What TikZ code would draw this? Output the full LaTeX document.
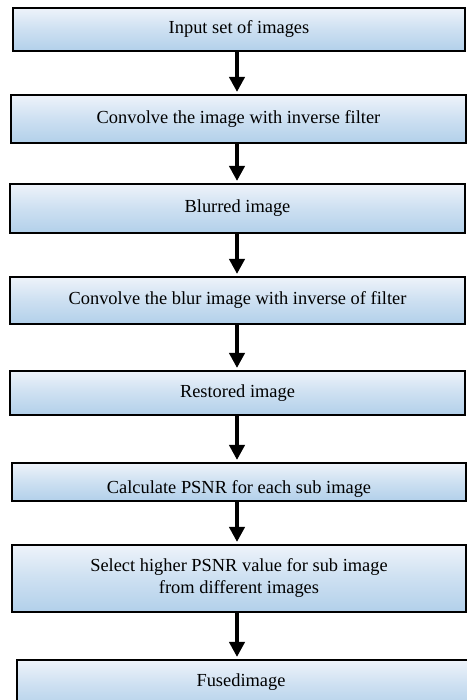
\documentclass[tikz,border=0pt]{standalone}
\usepackage{fontspec}
\setmainfont{Liberation Serif}
\usetikzlibrary{arrows.meta,calc}
\definecolor{boxtop}{HTML}{EEF3FA}
\definecolor{boxbot}{HTML}{B2D0EA}
\tikzset{
  box/.style={draw=black, line width=2.5pt, top color=boxtop, bottom color=boxbot,
    middle color=boxbot!55!boxtop, shading angle=0, rectangle, inner sep=0pt, outer sep=0pt,
    font=\fontsize{18.4}{22}\selectfont, align=center},
  arr/.style={line width=4pt, -{Triangle[width=15pt,length=15pt]}, shorten >=3pt, shorten <=1pt},
  txt/.style={font=\fontsize{18.4}{22}\selectfont, inner sep=0pt}
}
\begin{document}
\begin{tikzpicture}[x=1pt,y=1pt]
\useasboundingbox (0,0) rectangle (466,700);
\node[box, minimum width=452pt, minimum height=43pt] (b1) at (239,670.5) {Input set of images};
\node[box, minimum width=455pt, minimum height=48pt] (b2) at (238.5,581) {Convolve the image with inverse filter};
\node[box, minimum width=455pt, minimum height=49pt] (b3) at (237.5,491.5) {Blurred image};
\node[box, minimum width=455pt, minimum height=47pt] (b4) at (237.5,399.5) {Convolve the blur image with inverse of filter};
\node[box, minimum width=455pt, minimum height=44pt] (b5) at (237.5,307) {Restored image};
\node[box, minimum width=454pt, minimum height=38pt] (b6) at (239,218) {};
\begin{scope}
  \clip (b6.south west) rectangle (b6.north east);
  \node[txt, anchor=base] (t6) at (239,206) {Calculate PSNR for each sub image};
\end{scope}
\draw[line width=2.5pt] (b6.south west) rectangle (b6.north east);
\node[box, minimum width=454pt, minimum height=67pt] (b7) at (239,121.5) {Select higher PSNR value for sub image\\from different images};
\node[box, minimum width=453pt, minimum height=50pt] (b8) at (243.5,15) {};
\node[txt] (t8) at (241,18) {Fusedimage};
\draw[arr] (b1.south -| 237,0) -- (b2.north -| 237,0);
\draw[arr] (b2.south -| 237,0) -- (b3.north -| 237,0);
\draw[arr] (b3.south -| 237,0) -- (b4.north -| 237,0);
\draw[arr] (b4.south -| 237,0) -- (b5.north -| 237,0);
\draw[arr] (b5.south -| 237,0) -- (b6.north -| 237,0);
\draw[arr] (b6.south -| 237,0) -- (b7.north -| 237,0);
\draw[arr] (b7.south -| 237,0) -- (b8.north -| 237,0);
\end{tikzpicture}
\end{document}
